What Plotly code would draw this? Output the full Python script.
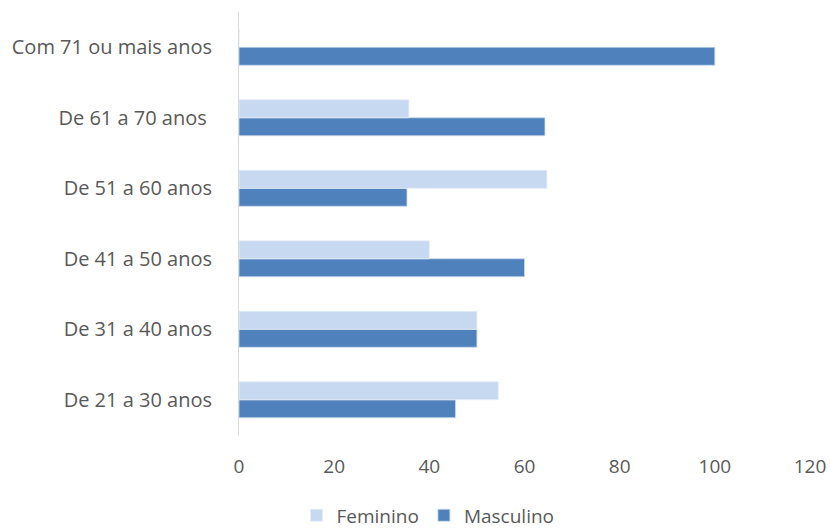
import plotly.graph_objects as go

categories = ["De 21 a 30 anos", "De 31 a 40 anos", "De 41 a 50 anos",
              "De 51 a 60 anos", "De 61 a 70 anos ", "Com 71 ou mais anos"]
feminino = [54.5, 50.0, 40.0, 64.7, 35.7, 0]
masculino = [45.5, 50.0, 60.0, 35.3, 64.3, 100]
x_ticks = [0, 20, 40, 60, 80, 100, 120]

font_family = "Open Sans, Liberation Sans, sans-serif"
gray = "#595959"

fig = go.Figure()
fig.add_trace(go.Bar(y=categories, x=masculino, name="Masculino", orientation="h",
                     marker=dict(color="#4F81BD", line=dict(color="#c9d8ec", width=0.8)),
                     legendrank=2))
fig.add_trace(go.Bar(y=categories, x=feminino, name="Feminino", orientation="h",
                     marker=dict(color="#C6D9F1", line=dict(color="#e4edf8", width=0.8)),
                     legendrank=1))

fig.update_layout(
    width=830, height=529,
    margin=dict(l=239, r=20, t=12, b=94, autoexpand=False),
    barmode="group", bargap=0.49, bargroupgap=0,
    plot_bgcolor="white", paper_bgcolor="white",
    font=dict(family=font_family, size=19, color=gray),
    legend=dict(orientation="h", x=0.331, xanchor="center", y=-0.19, yanchor="middle",
                font=dict(size=19, color=gray), itemwidth=30, tracegroupgap=0),
    showlegend=True,
)
fig.update_xaxes(range=[0, 120], tickvals=x_ticks, showgrid=False, zeroline=False,
                 showline=False, automargin=False, ticklabelstandoff=18,
                 tickfont=dict(size=19, color=gray))
fig.update_yaxes(type="category", categoryorder="array", categoryarray=categories,
                 showgrid=False, showline=True, linecolor="#d9d9d9", linewidth=1,
                 automargin=False, ticklabelstandoff=22, tickfont=dict(size=20, color=gray))

fig.write_html("out.html", config={"displayModeBar": False},
               post_script="document.body.style.margin='0';document.body.style.overflow='hidden';")
